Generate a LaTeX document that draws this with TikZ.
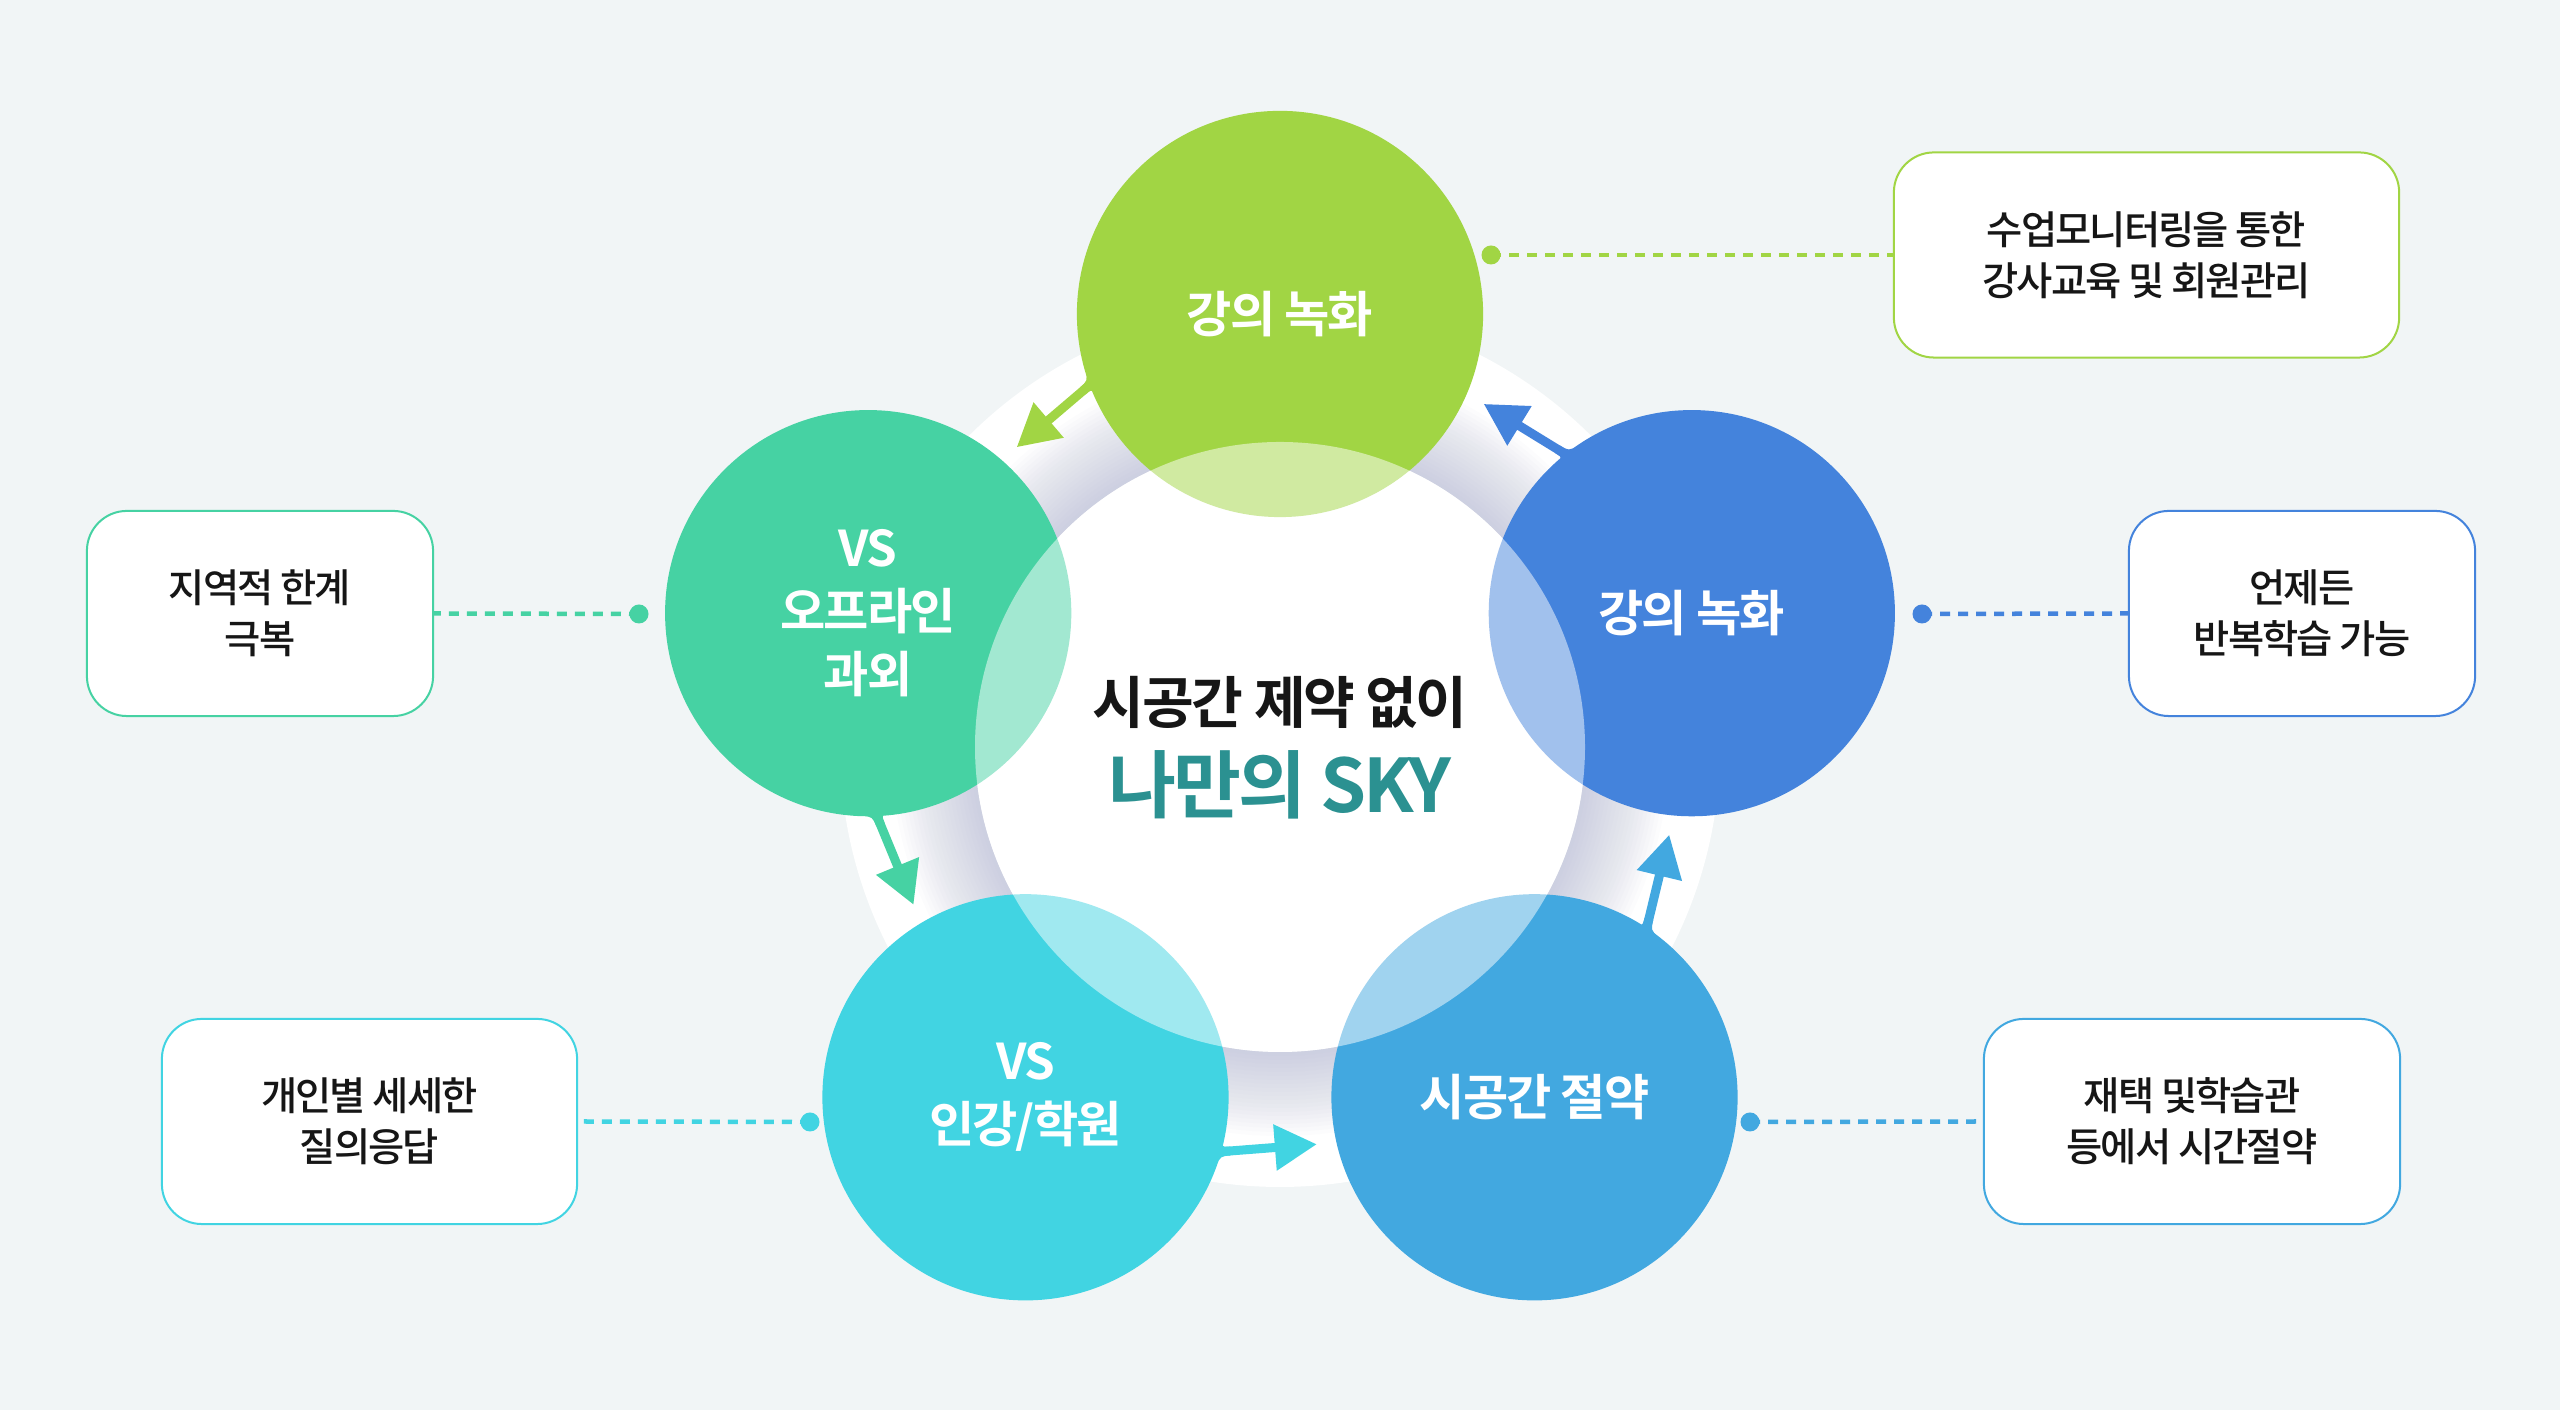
\documentclass[tikz,border=0pt]{standalone}
\usepackage{fontspec}
\setmainfont{Noto Sans CJK KR}
\newfontfamily\krb{Noto Sans CJK KR Bold}[LetterSpace=-4]
\newfontfamily\krm{Noto Sans CJK KR Medium}[LetterSpace=-5]
\usetikzlibrary{arrows.meta,calc}
\definecolor{bg}{HTML}{F1F5F6}
\definecolor{cg}{HTML}{A1D544}
\definecolor{ct}{HTML}{46D2A3}
\definecolor{cb}{HTML}{4483DC}
\definecolor{cc}{HTML}{41D4E2}
\definecolor{cs}{HTML}{42A8E0}
\definecolor{teal}{HTML}{2B9191}
\definecolor{ink}{HTML}{161616}
\definecolor{shd}{HTML}{B0B5D2}
\tikzset{
 bubble/.style={circle, inner sep=0pt, minimum size=4.06cm, text=white, align=center, font=\krb\fontsize{14}{17.9}\selectfont},
 infobox/.style={rectangle, rounded corners=0.4cm, fill=white, line width=0.02cm, minimum height=2.05cm, align=center, text=ink, font=\krm\fontsize{11.2}{14.6}\selectfont},
 dotnode/.style={circle, inner sep=0pt, minimum size=0.19cm},
 dotline/.style={line width=0.045cm, dash pattern=on 0.1cm off 0.08cm},
 shaft/.style={line width=0.09cm, -{Triangle[length=0.42cm,width=0.44cm]}},
}
\begin{document}
\begin{tikzpicture}[x=0.01cm,y=0.01cm]
\fill[bg] (0,0) rectangle (2560,1410);
\useasboundingbox (0,0) rectangle (2560,1410);
\coordinate (c) at (1280,663);
% white ring and soft shadow
\fill[white] (c) circle (440);
\foreach \i in {0,...,21} \fill[shd,opacity=0.036] (c) circle ({389-4*\i});
\fill[white] (c) circle (305);
% five circles
\node[bubble, fill=cg] (G)  at ($(c)+(90:433)$)  {강의 녹화};
\node[bubble, fill=ct] (L)  at ($(c)+(162:433)$) {VS\\오프라인\\과외};
\node[bubble, fill=cc] (BL) at ($(c)+(234:433)$) {VS\\인강/학원};
\node[bubble, fill=cs] (BR) at ($(c)+(306:433)$) {시공간 절약};
\node[bubble, fill=cb] (R)  at ($(c)+(18:433)$)  {강의 녹화};
% arrows with tabs
\foreach \k/\col/\src in {0/cg/G,1/ct/L,2/cc/BL,3/cs/BR,4/cb/R} {
  \coordinate (A\k) at ($(c)+(119+72*\k:407)$);
  \coordinate (T\k) at ($(c)+(131.3+72*\k:399)$);
  \coordinate (X\k) at ($(A\k)!-0.1cm!(T\k)$);
  \coordinate (P\k) at ($(\src)+(196+72*\k:202)$);
  \coordinate (Q\k) at ($(\src)+(206.5+72*\k:202)$);
  \fill[\col] (P\k) .. controls ($(X\k)!0.045cm!-90:(T\k)$) .. ($(A\k)!0.045cm!-90:(T\k)$)
     -- ($(A\k)!0.045cm!90:(T\k)$) .. controls ($(X\k)!0.045cm!90:(T\k)$) .. (Q\k) -- cycle;
  \draw[shaft, \col] (X\k) -- (T\k);
}
% translucent centre
\fill[white, opacity=0.5] (c) circle (305);
\node[font=\krb\fontsize{16}{18}\selectfont, text=ink] (t1) at (1280,708) {시공간 제약 없이};
\node[font=\krb\fontsize{21}{24}\selectfont, text=teal] (t2) at (1280,625) {나만의 SKY};
% info boxes
\node[infobox, draw=cg, minimum width=5.05cm] (bG)  at (2146.5,1155) {수업모니터링을 통한\\강사교육 및 회원관리};
\node[infobox, draw=cb, minimum width=3.46cm] (bR)  at (2302,796.5) {언제든\\반복학습 가능};
\node[infobox, draw=ct, minimum width=3.46cm] (bL)  at (260,796.5) {지역적 한계\\극복};
\node[infobox, draw=cc, minimum width=4.15cm] (bBL) at (369.5,288.5) {개인별 세세한\\질의응답};
\node[infobox, draw=cs, minimum width=4.16cm] (bBR) at (2192,288.5) {재택 및학습관\\등에서 시간절약};
% dots and dotted leaders
\node[dotnode, fill=cg] (dG)  at (1491,1155) {};
\node[dotnode, fill=cb] (dR)  at (1922,796) {};
\node[dotnode, fill=ct] (dL)  at (639,796) {};
\node[dotnode, fill=cc] (dBL) at (810,288) {};
\node[dotnode, fill=cs] (dBR) at (1750,288) {};
\draw[dotline, cg] (dG.center) -- (bG.west);
\draw[dotline, cb] (dR.center) -- (bR.west);
\draw[dotline, ct] (dL.center) -- (bL.east);
\draw[dotline, cc] (dBL.center) -- (bBL.east);
\draw[dotline, cs] (dBR.center) -- (bBR.west);
\end{tikzpicture}
\end{document}
